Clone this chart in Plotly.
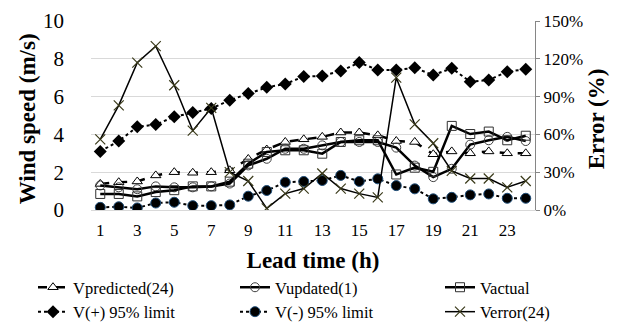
import plotly.graph_objects as go

hours = list(range(1, 25))
x_ticks = [1, 3, 5, 7, 9, 11, 13, 15, 17, 19, 21, 23]

v_predicted = [1.38, 1.47, 1.51, 1.83, 2.0, 1.97, 2.0, 2.1, 2.7, 3.2, 3.6, 3.74,
               3.87, 4.1, 4.1, 3.95, 3.65, 3.6, 2.95, 3.1, 3.0, 3.1, 3.0, 3.0]
v_updated = [1.3, 1.2, 1.1, 1.25, 1.2, 1.2, 1.25, 1.4, 2.36, 2.71, 3.24, 3.24,
             3.42, 3.6, 3.6, 3.6, 3.3, 2.35, 1.74, 2.18, 3.46, 3.69, 3.87, 3.65]
v_actual = [0.85, 0.85, 0.72, 0.95, 1.05, 1.25, 1.25, 1.5, 2.45, 3.07, 3.16, 3.16,
            2.98, 3.6, 3.69, 3.69, 1.88, 2.24, 2.02, 4.45, 4.02, 4.15, 3.69, 3.93]
v_plus95 = [3.10, 3.65, 4.40, 4.52, 4.93, 5.16, 5.37, 5.81, 6.17, 6.49, 6.67, 7.06,
            7.09, 7.36, 7.80, 7.41, 7.41, 7.52, 7.14, 7.5, 6.79, 6.88, 7.32, 7.45]
v_minus95 = [0.14, 0.17, 0.11, 0.37, 0.41, 0.23, 0.23, 0.27, 0.73, 1.03, 1.47, 1.51,
             1.56, 1.83, 1.51, 1.65, 1.29, 1.12, 0.59, 0.67, 0.80, 0.85, 0.62, 0.62]
v_error_pct = [56, 83, 117, 130, 99, 63, 81, 30, 23, 1.3, 13, 17,
               29, 17, 13, 10, 105, 68, 53, 31, 25, 25, 18, 23]

FONT = "Liberation Serif"
W, H = 619, 326
L, R, T, B = 83, 92, 13, 124
PW = W - L - R

fig = go.Figure()

fig.add_trace(go.Scatter(
    x=hours, y=v_predicted, name="Vpredicted(24)", mode="lines+markers",
    legend="legend", legendrank=1,
    line=dict(color="black", width=2.5, dash="dash"),
    marker=dict(symbol="triangle-up", size=9, color="white",
                line=dict(color="black", width=1))))
fig.add_trace(go.Scatter(
    x=hours, y=v_updated, name="Vupdated(1)", mode="lines+markers",
    legend="legend2", legendrank=1,
    line=dict(color="black", width=2.5),
    marker=dict(symbol="circle-open", size=9, color="#404040",
                line=dict(width=1))))
fig.add_trace(go.Scatter(
    x=hours, y=v_actual, name="Vactual", mode="lines+markers",
    legend="legend3", legendrank=1,
    line=dict(color="black", width=2.5),
    marker=dict(symbol="square-open", size=9, color="#303030",
                line=dict(width=1))))
fig.add_trace(go.Scatter(
    x=hours, y=v_plus95, name="V(+) 95% limit", mode="lines+markers",
    legend="legend", legendrank=2,
    line=dict(color="black", width=2, dash="dot"),
    marker=dict(symbol="diamond", size=10, color="black")))
fig.add_trace(go.Scatter(
    x=hours, y=v_minus95, name="V(-) 95% limit", mode="lines+markers",
    legend="legend2", legendrank=2,
    line=dict(color="black", width=2, dash="dot"),
    marker=dict(symbol="circle", size=10, color="black",
                line=dict(color="#1f4e79", width=1))))
fig.add_trace(go.Scatter(
    x=hours, y=v_error_pct, name="Verror(24)", mode="lines+markers", yaxis="y2",
    legend="legend3", legendrank=2,
    line=dict(color="black", width=1.5),
    marker=dict(symbol="x-thin-open", size=10, color="#3a3a1a",
                line=dict(width=1.2))))

legend_common = dict(
    orientation="v", yanchor="top", xanchor="left",
    xref="container", yref="container",
    font=dict(size=16.5, family=FONT), tracegroupgap=0,
    bgcolor="rgba(0,0,0,0)", itemwidth=30, traceorder="normal")
LEG_TOP = 1 - 262 / H

fig.add_annotation(
    text="<b>Wind speed (m/s)</b>", textangle=-90, showarrow=False,
    xref="paper", yref="paper", x=(19 - L) / PW, y=0.48,
    xanchor="center", yanchor="middle", font=dict(size=23, family=FONT))
fig.add_annotation(
    text="<b>Error (%)</b>", textangle=-90, showarrow=False,
    xref="paper", yref="paper", x=(588 - L) / PW, y=0.48,
    xanchor="center", yanchor="middle", font=dict(size=23, family=FONT))

fig.update_layout(
    width=W, height=H,
    margin=dict(l=L, r=R, t=T, b=B, autoexpand=False),
    paper_bgcolor="white", plot_bgcolor="white",
    font=dict(family=FONT, color="black"),
    showlegend=True,
    xaxis=dict(
        range=[0.5, 24.5], tickvals=x_ticks, ticktext=[str(v) for v in x_ticks],
        showgrid=False, zeroline=False, showline=True, linecolor="#d9d9d9",
        ticks="", tickfont=dict(size=17, family=FONT), ticklabelstandoff=5,
        title=dict(text="<b>Lead time (h)</b>", font=dict(size=23, family=FONT),
                   standoff=12)),
    yaxis=dict(
        range=[0, 10], dtick=2, showgrid=True, gridcolor="#d9d9d9", gridwidth=1,
        zeroline=False, showline=False, ticks="",
        tickfont=dict(size=21, family=FONT), ticklabelstandoff=26),
    yaxis2=dict(
        range=[0, 150], dtick=30, ticksuffix="%", overlaying="y", side="right",
        showgrid=False, zeroline=False, showline=True, linecolor="#868686",
        ticks="outside", ticklen=4, tickcolor="#868686",
        tickfont=dict(size=17, family=FONT), ticklabelstandoff=0),
    legend=dict(x=25 / W, y=LEG_TOP, **legend_common),
    legend2=dict(x=227 / W, y=LEG_TOP, **legend_common),
    legend3=dict(x=432 / W, y=LEG_TOP, **legend_common),
)

fig.write_html("out.html")
